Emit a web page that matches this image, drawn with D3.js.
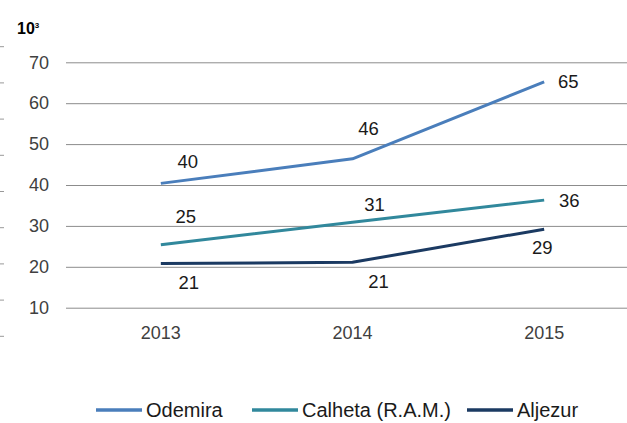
<!DOCTYPE html>
<html>
<head>
<meta charset="utf-8">
<script src="https://cdn.jsdelivr.net/npm/d3@7"></script>
<style>
  body { margin: 0; background: #fff; }
  text { font-family: 'Liberation Sans', Arial, sans-serif; }
</style>
</head>
<body>
<svg id="chart" width="627" height="423"></svg>
<script>
const years = ['2013', '2014', '2015']
const seriesNames = ['Odemira', 'Calheta (R.A.M.)', 'Aljezur']
const odemira = [40.4, 46.4, 65.2]
const calheta = [25.4, 30.9, 36.3]
const aljezur = [20.8, 21.1, 29.2]
const yTicks = [10, 20, 30, 40, 50, 60, 70]

const colors = ['#4a7ebb', '#31889c', '#1b3a62']
// label offsets from each point, per series
const labelOffsets = [
  [[27, -22], [16, -30], [24, 0]],
  [[25, -28], [22, -18], [25, 0]],
  [[28, 19], [26, 19], [-2, 18]]
]
const legendX = [96, 252, 467]

const width = 627
const svg = d3.select('#chart')

const x = d3.scaleBand().domain(years).range([65, 640])
const y = d3.scaleLinear().domain([10, 70]).range([307.7, 62.3])
const cx = d => x(d) + x.bandwidth() / 2

// stray tick marks on the far left
svg.append('g')
  .selectAll('line')
  .data(d3.range(9))
  .enter()
  .append('line')
  .attr('x1', 0).attr('x2', 4)
  .attr('y1', i => 46.7 + i * 36.2).attr('y2', i => 46.7 + i * 36.2)
  .attr('stroke', '#999').attr('stroke-width', 1)

// y axis + gridlines
const yAxis = svg.append('g')
  .attr('transform', 'translate(66,0)')
  .call(d3.axisLeft(y).tickValues(yTicks).tickSize(-(width - 66)).tickPadding(17))
yAxis.select('.domain').remove()
yAxis.selectAll('line').attr('stroke', '#8c8c8c')
yAxis.selectAll('text').attr('font-size', 18).attr('fill', '#404040')

// unit
svg.append('text')
  .attr('x', 17).attr('y', 34)
  .attr('font-size', 16).attr('font-weight', 'bold').attr('fill', '#000')
  .text('10')
  .append('tspan').attr('dy', -6).attr('font-size', 8).text('3')

// x axis labels
const xAxis = svg.append('g')
  .attr('transform', 'translate(0,' + y(10) + ')')
  .call(d3.axisBottom(x).tickSize(0).tickPadding(19))
xAxis.select('.domain').remove()
xAxis.selectAll('text').attr('font-size', 18).attr('fill', '#404040')

const series = [odemira, calheta, aljezur].map((vals, i) => ({
  name: seriesNames[i],
  color: colors[i],
  points: vals.map((v, j) => ({ year: years[j], value: v, off: labelOffsets[i][j] }))
}))

const line = d3.line().x(d => cx(d.year)).y(d => y(d.value))

svg.append('g')
  .selectAll('path')
  .data(series)
  .enter()
  .append('path')
  .attr('d', d => line(d.points))
  .attr('fill', 'none')
  .attr('stroke', d => d.color)
  .attr('stroke-width', 3)
  .attr('stroke-linejoin', 'round')

svg.append('g')
  .selectAll('text')
  .data(series.flatMap(s => s.points))
  .enter()
  .append('text')
  .attr('x', d => cx(d.year) + d.off[0])
  .attr('y', d => y(d.value) + d.off[1])
  .attr('dy', '0.35em')
  .attr('text-anchor', 'middle')
  .attr('font-size', 18.5)
  .attr('fill', '#1a1a1a')
  .text(d => Math.round(d.value))

// legend
const legend = svg.append('g')
  .selectAll('g')
  .data(series)
  .enter()
  .append('g')
  .attr('transform', (d, i) => 'translate(' + legendX[i] + ',410)')
legend.append('line')
  .attr('x1', 0).attr('x2', 46)
  .attr('stroke', d => d.color).attr('stroke-width', 3.5)
legend.append('text')
  .attr('x', 50).attr('dy', '0.35em')
  .attr('font-size', 20).attr('fill', '#1a1a1a')
  .text(d => d.name)
</script>
</body>
</html>
